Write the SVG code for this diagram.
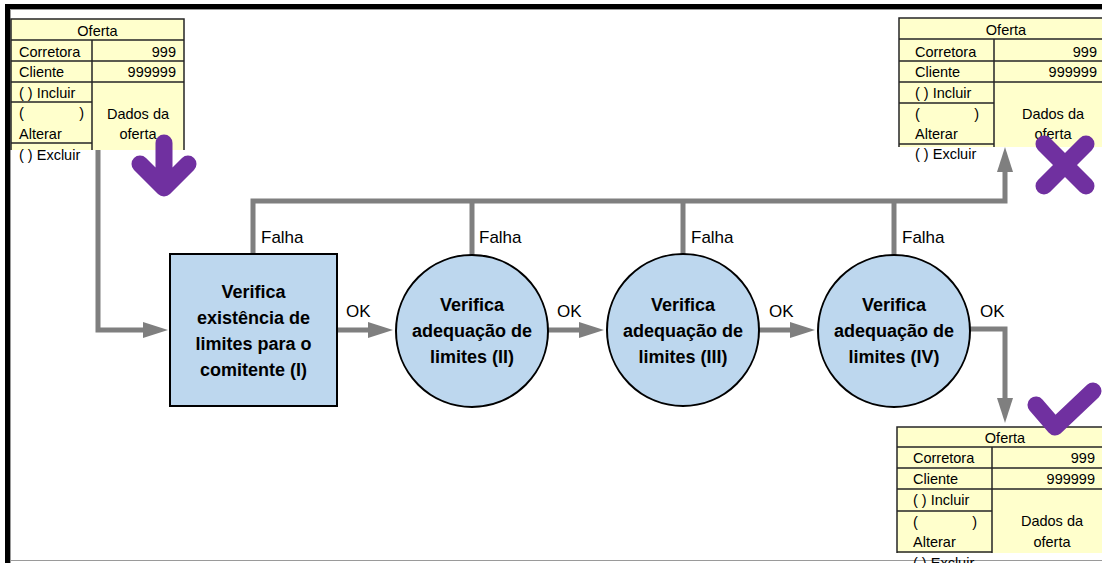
<svg xmlns="http://www.w3.org/2000/svg" width="1102" height="563" viewBox="0 0 1102 563">
<style>
.cell{fill:#FFFFCC;stroke:none}
.grid{stroke:#262626;stroke-width:1.5;fill:none}
.t{font-family:"Liberation Sans",Arial,sans-serif;font-size:14.5px;fill:#000}
.e{text-anchor:end}
.m{text-anchor:middle}
.lbl{font-family:"Liberation Sans",Arial,sans-serif;font-size:17px;fill:#000}
.nt{font-family:"Liberation Sans",Arial,sans-serif;font-size:18px;font-weight:bold;text-anchor:middle;fill:#000}
.node{fill:#BDD7EE;stroke:#000;stroke-width:2}
.conn{stroke:#7F7F7F;stroke-width:5;fill:none;stroke-linejoin:miter}
.arr{marker-end:url(#ah)}
.icon{stroke:#7030A0;stroke-width:17;stroke-linecap:round;stroke-linejoin:round;fill:none}
</style>
<defs>
<marker id="ah" markerUnits="userSpaceOnUse" markerWidth="25" markerHeight="16" refX="15" refY="8" orient="auto">
<path d="M0,0 L25,8 L0,16 Z" fill="#7F7F7F"/>
</marker>
</defs>
<rect width="1102" height="563" fill="#fff"/>
<g id="frame">
<rect x="5" y="4" width="1097" height="5" fill="#000"/>
<rect x="5" y="4" width="5" height="559" fill="#000"/>
<line x1="10" y1="9.5" x2="1102" y2="9.5" stroke="#9a9a9a" stroke-width="1"/>
<line x1="10.5" y1="9" x2="10.5" y2="563" stroke="#9a9a9a" stroke-width="1"/>
<line x1="10" y1="560.5" x2="1102" y2="560.5" stroke="#9a9a9a" stroke-width="1"/>
</g>
<g id="oferta-entrada">
<rect class="cell" x="11" y="19" width="173" height="131"/>
<path class="grid" d="M11,150 V19 H184 V150 M11,40 H184 M92,40 V150 M11,61 H184 M11,82 H184 M11,102 H92 M11,143 H92"/>
<text class="t m" x="97.5" y="36">Oferta</text>
<text class="t" x="19" y="57">Corretora</text>
<text class="t e" x="176" y="57">999</text>
<text class="t" x="19" y="77">Cliente</text>
<text class="t e" x="176" y="77">999999</text>
<text class="t" x="19" y="98">( ) Incluir</text>
<text class="t" x="19" y="118">(</text>
<text class="t e" x="84" y="118">)</text>
<text class="t" x="19" y="139">Alterar</text>
<text class="t" x="19" y="160">( ) Excluir</text>
<text class="t m" x="138" y="119">Dados da</text>
<text class="t m" x="138" y="139">oferta</text>
</g>
<g id="oferta-rejeitada">
<rect class="cell" x="899" y="18" width="213" height="129"/>
<path class="grid" d="M899,147 V18 H1112 M899,39 H1112 M994,39 V147 M899,61 H1112 M899,82 H1112 M899,103 H994 M899,144 H994"/>
<text class="t m" x="1006" y="35">Oferta</text>
<text class="t" x="915" y="57">Corretora</text>
<text class="t e" x="1097" y="57">999</text>
<text class="t" x="915" y="77">Cliente</text>
<text class="t e" x="1097" y="77">999999</text>
<text class="t" x="915" y="98">( ) Incluir</text>
<text class="t" x="915" y="119">(</text>
<text class="t e" x="979" y="119">)</text>
<text class="t" x="915" y="139">Alterar</text>
<text class="t" x="915" y="159">( ) Excluir</text>
<text class="t m" x="1053" y="119">Dados da</text>
<text class="t m" x="1053" y="139">oferta</text>
</g>
<g id="oferta-aceita">
<rect class="cell" x="897" y="427" width="215" height="126"/>
<path class="grid" d="M897,553 V427 H1112 M897,447 H1112 M992,447 V553 M897,468 H1112 M897,489 H1112 M897,511 H992 M897,552 H992"/>
<text class="t m" x="1005" y="443">Oferta</text>
<text class="t" x="913" y="463">Corretora</text>
<text class="t e" x="1095" y="463">999</text>
<text class="t" x="913" y="484">Cliente</text>
<text class="t e" x="1095" y="484">999999</text>
<text class="t" x="913" y="505">( ) Incluir</text>
<text class="t" x="913" y="527">(</text>
<text class="t e" x="977" y="527">)</text>
<text class="t" x="913" y="547">Alterar</text>
<text class="t" x="913" y="568">( ) Excluir</text>
<text class="t m" x="1052" y="526">Dados da</text>
<text class="t m" x="1052" y="547">oferta</text>
</g>
<g id="icons">
<path class="icon" d="M164,143 V186 M140,164 L164,188 L188,164"/>
<path class="icon" d="M1044,144 L1086,186 M1086,144 L1044,186"/>
<path class="icon" d="M1036,405 L1055,427 L1093,391"/>
</g>
<g id="connectors">
<path class="conn arr" d="M98,150 V330 H158"/>
<path class="conn arr" d="M337,330 H383"/>
<path class="conn arr" d="M548,330 H594"/>
<path class="conn arr" d="M759,330 H805"/>
<path class="conn arr" d="M970,329 H1005 V413"/>
<path class="conn arr" d="M253,254 V201 H1005 V157"/>
<path class="conn" d="M472,256 V201"/>
<path class="conn" d="M683,255 V201"/>
<path class="conn" d="M894,256 V201"/>
<text class="lbl" x="261" y="243">Falha</text>
<text class="lbl" x="479" y="243">Falha</text>
<text class="lbl" x="691" y="243">Falha</text>
<text class="lbl" x="902" y="243">Falha</text>
<text class="lbl" x="346" y="317">OK</text>
<text class="lbl" x="557" y="317">OK</text>
<text class="lbl" x="769" y="317">OK</text>
<text class="lbl" x="980" y="317">OK</text>
</g>
<g id="verif-1">
<rect class="node" x="170" y="254" width="167" height="152"/>
<text class="nt" x="253.5" y="298">Verifica</text>
<text class="nt" x="253.5" y="324">existência de</text>
<text class="nt" x="253.5" y="350">limites para o</text>
<text class="nt" x="253.5" y="376">comitente (I)</text>
</g>
<g id="verif-2">
<circle class="node" cx="472" cy="331" r="76"/>
<text class="nt" x="472" y="311">Verifica</text>
<text class="nt" x="472" y="337">adequação de</text>
<text class="nt" x="472" y="363">limites (II)</text>
</g>
<g id="verif-3">
<circle class="node" cx="683" cy="330" r="76"/>
<text class="nt" x="683" y="311">Verifica</text>
<text class="nt" x="683" y="337">adequação de</text>
<text class="nt" x="683" y="363">limites (III)</text>
</g>
<g id="verif-4">
<circle class="node" cx="894" cy="331" r="76"/>
<text class="nt" x="894" y="311">Verifica</text>
<text class="nt" x="894" y="337">adequação de</text>
<text class="nt" x="894" y="363">limites (IV)</text>
</g>
</svg>
